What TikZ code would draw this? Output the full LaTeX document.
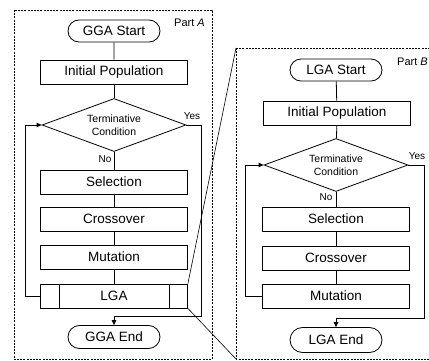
\documentclass[tikz,border=0pt]{standalone}
\usepackage{fontspec}
\setmainfont{Liberation Sans}
\usetikzlibrary{shapes.geometric,shapes.misc,arrows.meta}

\tikzset{
  stepbox/.style={draw,line width=0.8pt,minimum width=147pt,minimum height=24pt,inner sep=0pt,font=\fontsize{13.5}{15}\selectfont},
  terminal/.style={draw,line width=0.8pt,rounded rectangle,minimum width=92pt,minimum height=22pt,inner sep=0pt,font=\fontsize{13.5}{15}\selectfont},
  decision/.style={draw,line width=0.8pt,diamond,aspect=2.7,minimum width=144pt,minimum height=53pt,inner sep=0pt,align=center,font=\fontsize{10.5}{13}\selectfont},
  flow/.style={line width=0.8pt},
  flowarrow/.style={line width=0.8pt,-{Triangle[length=5pt,width=4.5pt]}},
  frame/.style={line width=0.8pt,dash pattern=on 2pt off 1.2pt},
  tag/.style={font=\fontsize{10}{12}\selectfont,inner sep=0pt},
  partlbl/.style={font=\fontsize{11}{13}\selectfont,inner sep=0pt}
}

\begin{document}
\begin{tikzpicture}[x=1pt,y=-1pt]
\useasboundingbox (0,0) rectangle (429,361);

% Part A: GGA
\draw[frame] (14,10) rectangle (212,359);
\node[partlbl,anchor=east] (parta) at (205,23) {Part \textit{A}};

\node[terminal] (gstart) at (114,31) {GGA Start};
\node[stepbox] (ginit) at (114,72) {Initial Population};
\node[decision] (gcond) at (114,125) {Terminative\\Condition};
\node[stepbox] (gsel) at (114,182) {Selection};
\node[stepbox] (gcross) at (114,219) {Crossover};
\node[stepbox] (gmut) at (114,257) {Mutation};
\node[stepbox] (glga) at (114,296) {LGA};
\node[terminal,minimum height=23pt] (gend) at (114,337) {GGA End};

% LGA as sub-process
\draw[flow] ([xshift=19pt]glga.north west) -- ([xshift=19pt]glga.south west);
\draw[flow] ([xshift=-19pt]glga.north east) -- ([xshift=-19pt]glga.south east);

\draw[flow] (gstart) -- (ginit);
\draw[flow] (ginit) -- (gcond);
\draw[flow] (gcond) -- (gsel);
\draw[flow] (gsel) -- (gcross);
\draw[flow] (gcross) -- (gmut);
\draw[flow] (gmut) -- (glga);
\draw[flowarrow] (glga.west) -- ++(-15,0) |- (gcond.west);
\coordinate (gyes) at (201,316);
\draw[flowarrow] (gcond.east) -| (gyes) -| (gend.north);
\node[tag] (gyeslbl) at (192,116) {Yes};
\node[tag] (gnolbl) at (105,159) {No};

% Part B: LGA
\coordinate (bnw) at (236,48);
\coordinate (bsw) at (236,359);
\draw[frame] (bnw) -- (440,48);
\draw[frame] (bnw) -- (bsw) -- (440,359);
\node[partlbl,anchor=east] (partb) at (428,62) {Part \textit{B}};

\node[terminal] (lstart) at (336,70) {LGA Start};
\node[stepbox] (linit) at (337,113) {Initial Population};
\node[decision] (lcond) at (336,165) {Terminative\\Condition};
\node[stepbox] (lsel) at (336,219) {Selection};
\node[stepbox] (lcross) at (336,258) {Crossover};
\node[stepbox] (lmut) at (336,296) {Mutation};
\node[terminal,minimum height=25pt] (lend) at (336,340) {LGA End};

\draw[flow] (lstart) -- (linit);
\draw[flow] (linit) -- (lcond);
\draw[flow] (lcond) -- (lsel);
\draw[flow] (lsel) -- (lcross);
\draw[flow] (lcross) -- (lmut);
\draw[flowarrow] (lmut.west) -- ++(-17,0) |- (lcond.west);
\coordinate (lyes) at (424,318);
\draw[flowarrow] (lcond.east) -| (lyes) -| (lend.north);
\node[tag] (lyeslbl) at (417,156) {Yes};
\node[tag] (lnolbl) at (326,197) {No};

% zoom lines from LGA to Part B
\draw[line width=0.6pt] (glga.north east) -- (bnw);
\draw[line width=0.6pt] (glga.south east) -- (bsw);
\end{tikzpicture}
\end{document}
